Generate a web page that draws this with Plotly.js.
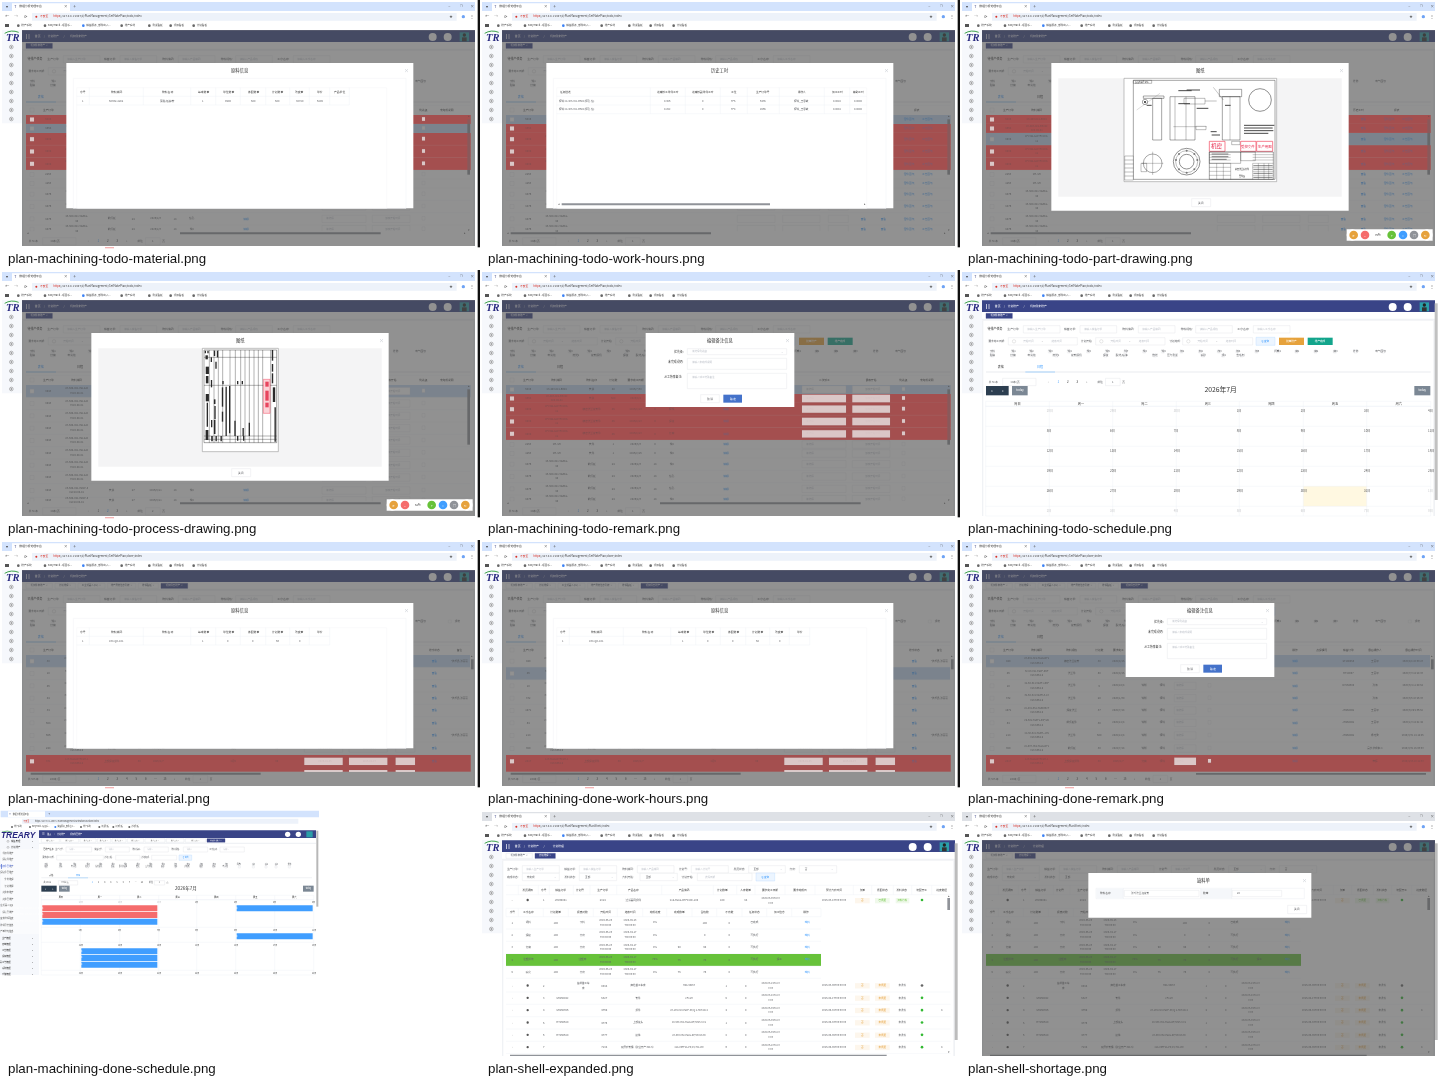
<!DOCTYPE html>
<html><head><meta charset="utf-8">
<script src="https://cdn.plot.ly/plotly-3.0.1.min.js"></script>
<style>html,body{margin:0;padding:0;background:#fff}#plot{width:1440px;height:1080px}
.cartesianlayer,.layer-above,.layer-below{filter:blur(0.22px)}
.annotation{filter:blur(0.18px)}
.annotation:nth-last-child(-n+12){filter:none}
</style>
</head><body><div id="plot"></div>
<script>
// ---------- content ----------
const captions=['plan-machining-todo-material.png','plan-machining-todo-work-hours.png','plan-machining-todo-part-drawing.png','plan-machining-todo-process-drawing.png','plan-machining-todo-remark.png','plan-machining-todo-schedule.png','plan-machining-done-material.png','plan-machining-done-work-hours.png','plan-machining-done-remark.png','plan-machining-done-schedule.png','plan-shell-expanded.png','plan-shell-shortage.png'];
const bookmarks=['排产系统','EasyTrack - 项目系...','销售服务_部件出入...','排产系统','测试看板','机加看板','计划看板'];
const checksTop=['下料','铣1','铣2','铣3','铣4','铣5','铣6','铣7','铣8','铣9','加1','加2','加3','加4','加5','折叠1','磨1','磨2','磨3','外协','机械图纸','电气图纸'];
const checksBottom=['贴牌','打磨','电火花','激光1','接管焊机','焊接','酸洗/喷漆','拖光','压力测试','喷砂','组2','去毛刺'];
const todoHeaders=['生产订单','物料编码','物料名称','计划数','要求完工日期','','工序','','操作','','二次派工','最晚开始','优先级','未完成说明'];
const todoOrders=['6435','8564','8939','8939','8939','2263','1263','8476','8476','8476','8476'];
const todoCodes=['23-403-021-B6x4','23-403-021-B32x2','2FI-YGLG-DTFC20C-11','2FI-YGLG-DTFC20C-11','2FI-YGLG-DTFC20C-11','2FI-SH','2FI-SH','23-500-021-YGZKL-40','23-500-021-YGZKL-40','23-500-021-YGZKL-40','23-500-021-YGZKL-40'];
const todoNames=['管筒','管筒','精密法兰接管件','精密法兰接管件','精密法兰接管件','管件','管件','前顶板','前顶板','前顶板','前顶板'];
const todoQty=['40','500','45','45','45','1','1','24','24','24','24'];
const todoDates=['2026/7/30','2026/9/1','2026/8/13','2026/8/13','2026/8/13','2026/3/3','2026/2/16','2026/8/3','2026/8/3','2026/8/3','2026/8/3'];
const todoSteps=['铣削','铣削','镗铣','焊接','打磨','铣9','铣9','铣9','钻孔','钻孔','铣9'];
const processCodes=['23-509-021-YGLG-D7','23-509-021-YGLG-D7','23-509-021-YGLG-D7','23-509-021-YGLG-D7','23-509-021-YGLG-D7','23-509-021-YGLG-D7','23-509-021-YGLG-D7','23-509-021-YGLG-D7','23-509-021-YGNP-50L'];
const materialHeaders=['序号','物料编码','物料名称','基本数量','单位数量','拣配数量','计划数量','改变量','单价','产品单位'];
const materialRow=['1','50362-22x2','薄膜-镀锌管','1','9900','500','500','30720','6205',''];
const doneMaterialRows=[['1','168-QC-101','','1','0','0','56','0',''],['1','168-QC-101','','1','0','0','50','0','']];
const hourHeaders=['任务描述','进审核工单件工时','进审核副单件工时','工位','生产订单号','操作人','加工工时','辅助工时'];
const hourRows=[['镗铣 22-403-021-B6x4 (镗孔 钻)','0.386','0','TF5','6435','镗铣_王思敏','0.0028','0.0000'],['镗铣 22-403-021-B6x4 (镗孔 钻)','0.252','0','TF4','8565','镗铣_王思敏','0.0042','0.0000']];
const doneOrdersA=['30','10','46','44','34','554','556','248','371'];
const doneOrdersB=['449','46','10','372','1071','54','218','359','2017'];
const doneCodes=['23-501-021-YGLG-DF1','32-50-021-YGZF-D5F','22-50-021-YGZF-150F','32-50-021-YGZFL3-10','22-401-051-YG04002T','29-501-YGZFL-50F/U5','22-50-021-YGZFL-10V','22-507-052-YGLG-DF1','2J3-YGLG-DTFC2M-1'];
const doneNames=['精密法兰接管','法兰件','法兰件','法兰件','焊接法兰','前顶板件','法兰件','前顶板','上部焊接组件'];
const doneQty=['30','50','5','20','37','30','500','30','30'];
const doneDates=['2025/9/15','2025/9/15','2025/10/4','2026/1/30','2025/7/14','2025/12/4','2025/12/4','2024/7/14','2026/2/7'];
const doneSales=['SY190055','HT20357','KY250300','','JH250001','JH250001','JH250001','',''];
const doneUsers=['王丽平','王丽平','孙涛','孙涛','王丽平','王丽平','杨玲秀','吴长华成本二','李辉'];
const doneTimes=['2026/4/8 16:00:23','2026/7/3 14:24:33','2026/3/4 11:49:54','2026/3/6 10:25:33','2026/3/29 9:36:52','2026/1/3 14:41:44','2026/3/31 14:18:46','2026/3/31 15:03:03','2026/4/25 10:12:33'];
const shellHeaders=['发货通知','序号','销售订单','计划号','生产订单','产品名称','产品编码','计划数量','入库数量','要求完工日期','要求完成日','预计齐套时间','欠量','抵配状态','发料状态','装配开工','进度数据'];
const shellSeq=['2','3','4','5','6','7'];
const shellSales=['','SH260042','SH260356','HT260629','HT260629',''];
const shellOrders=['0884','5327','4769','4775','4777','7134'];
const shellNames=['商检首工车床','管件','组件','上部接头','接箍','双层套管桶（建业开产 3x4.5）'];
const shellCodes=['HXS-5625Y','2FI-SH','23-105-013-YGZF-50/Q.2-HCTAN-4','20-500-052-YGLG-DF/50V5.0-01','23-500-052-YGLG-DF/50V10-09','21S-V6FF2A-P6/25/H4-100'];
const shellQty=['1','5','4','1','8','6'];
const shellDue=['2026-03-19','2026-03-28','2026-06-09','2026-06-09','2026-06-09','2026-06-10'];
const shellExpect=['2026-03-06T00:00:00','2026-04-27T00:00:00','2026-06-02T00:00:00','2026-06-03T00:00:00','2026-06-05T00:00:00','2026-06-05T00:00:00'];
const subHeaders=['序号','工序名称','计划数量','报废对数','开始时间','结束时间','完成进度','完成数量','合格数','不良数','任务状态','加工信息','操作'];
const subSteps=['领料','焊接','打磨','注塑组装','喷化'];
const subNames=['下料','齐套','齐套','注塑库','齐套'];
const subStart=['2026-05-20','2026-05-20','2026-05-23','2026-05-20','2026-05-20'];
const subEnd=['2026-05-23','2026-04-17','2026-04-17','2026-04-17','2026-04-17'];
const subProgress=['0%','0%','0%','75%','0%'];
const subDone=['','','90','75','75'];
const subPass=['100','0','90','75','75'];
const subState=['已完成','可执行','可执行','可执行','可执行'];
const calendarWeek=['周日','周一','周二','周三','周四','周五','周六'];
const calendarDates=[['28日','29日','30日','1日','2日','3日','4日'],['5日','6日','7日','8日','9日','10日','11日'],['12日','13日','14日','15日','16日','17日','18日'],['19日','20日','21日','22日','23日','24日','25日'],['26日','27日','28日','29日','30日','31日','1日'],['2日','3日','4日','5日','6日','7日','8日']];
const doneMenu=['机加件排产','焊接件排产','机加件已排产','焊接件已排产','外协排程','计划排程','壳体未排产','壳体已排产','工业机器人(CJ)','焊接已排产','排查未排程列表','排程异常信息','投料产量排班信息'];
const doneMainMenu=['销售管理','计划排产','生产管理','质量管理','工艺管理','设备管理','模具工装管理','采购管理','仓储管理'];
const scheduleEvents=['6435 (镗铣) 22-403-021-B6x4 25T 2026/7/30 未派工','6435 (镗铣) 22-403-021-B6x4 25T 2026/7/30 未派工','6435 (镗铣) 22-403-021-B6x4 25T 2026/7/30 已派工','8939 (焊接) 2FI-YGLG-DTFC20C-112 已派工','2257 (调质热处理) 23-501-021 已派工','8564 (镗铣) 23-403-021-B32x2 已派工','8564 (镗铣) 23-403-021-B32x2 已派工','8564 (镗铣) 23-403-021-B32x2 已派工'];
const NAVY='#394487',GT='#606266',BLUE='#409eff',REDROW='#f56c6c';
const CJK='"Noto Sans CJK SC","Noto Sans",sans-serif';

// ---------- drawing helpers (coordinates are per-panel, at 3x) ----------
const shapes=[],annots=[],T={x:[],y:[],t:[],s:[],c:[],p:[]};
let ox=0,oy=0,lay='below',modal=false,redBands=[],glows=[];
const X=v=>ox+v/3,Y=v=>oy+v/3;
function rect(x0,y0,x1,y1,fill,line,w){shapes.push({type:'rect',layer:lay,xref:'x',yref:'y',x0:X(x0),y0:Y(y0),x1:X(x1),y1:Y(y1),fillcolor:fill||'rgba(0,0,0,0)',line:{color:line||'rgba(0,0,0,0)',width:line?(w||0.35):0}});}
function ln(x0,y0,x1,y1,c,w){shapes.push({type:'line',layer:lay,xref:'x',yref:'y',x0:X(x0),y0:Y(y0),x1:X(x1),y1:Y(y1),line:{color:c||'#ebeef5',width:w||0.35}});}
function circ(cx,cy,r,fill,line,w){shapes.push({type:'circle',layer:lay,xref:'x',yref:'y',x0:X(cx-r),y0:Y(cy-r),x1:X(cx+r),y1:Y(cy+r),fillcolor:fill||'rgba(0,0,0,0)',line:{color:line||'rgba(0,0,0,0)',width:line?(w||0.35):0}});}
function tx(x,y,s,size,c,a){ if(s===''||s==null)return; size=size||3.2;c=c||GT;a=a||'c';
 if(modal){annots.push({xref:'x',yref:'y',x:X(x),y:Y(y),text:String(s),showarrow:false,xanchor:a=='c'?'center':a=='l'?'left':'right',yanchor:'middle',font:{family:CJK,size:size,color:c},borderpad:0,borderwidth:0});}
 else{T.x.push(X(x));T.y.push(Y(y));T.t.push(String(s));T.s.push(size);T.c.push(c);T.p.push(a=='c'?'middle center':a=='l'?'middle right':'middle left');}}

function chrome(urlPath,crumb,grey){
 lay='below';modal=false;redBands=[];glows=[];
 rect(0,0,1440,742,'#ffffff');
 rect(6,6,1425,33,grey?'#dee1e6':'#d3e3fd');
 rect(36,10,210,33,'#ffffff');
 tx(22,20,'▾',3.5,'#444');tx(46,20,'T',3.5,NAVY);tx(58,20,'数据分析处理平台',2.8,'#333','l');tx(197,20,'×',4,'#555');tx(224,20,'+',5,'#555');
 tx(1348,20,'–',4,'#555');tx(1383,20,'❐',3,'#555');tx(1417,20,'×',4,'#555');
 tx(22,50,'←',4,'#555');tx(48,50,'→',4,'#aaa');tx(76,50,'⟳',4,'#555');
 rect(96,39,1370,62,'#edf2fa');
 circ(109,50,3,'#d93025');tx(120,50,'不安全',2.8,'#d93025','l');tx(160,50,'https',2.8,'#d93025','l');tx(178,50,'://127.0.0.1:1997/#/PlanManagement/'+urlPath,2.8,'#444','l');
 tx(1353,50,'★',3.5,'#555');circ(1390,50,5,'#6ea3f5');tx(1417,50,'⋮',4,'#555');
 rect(15,72,27,81,'#555');
 const bx=[50,130,245,360,443,507,576];
 bookmarks.forEach((b,i)=>{circ(bx[i]+5,77,4,i==2?'#3b82f6':'#666');tx(bx[i]+14,77,b,2.6,'#444','l');});
 rect(6,90,1425,91,'#ccd0d6');
 rect(6,90,66,370,'#f6f8fc');
 [141,168,195,222,249,276,303,330,357].forEach(y=>{circ(34,y,5.5,null,'#666',0.45);rect(32,y-2,36,y+2,'#8a8a8a');});
 rect(66,91,1425,126,NAVY);
 rect(78,102,80,117,'#fff');rect(86,102,88,117,'#fff');
 tx(113,109,'首页',2.8,'#fff');tx(133,109,'/',3,'#ddd');tx(160,109,'计划排产',2.8,'#fff');tx(192,109,'/',3,'#ddd');tx(235,109,crumb,2.8,'#fff');
 circ(1298,111,12,'#fff');circ(1343,111,12,'#fff');
 rect(1379,97,1407,124,'#2a9fa8');circ(1393,105,5,'#222');rect(1386,112,1400,124,'#333');
 rect(66,126,1425,150,'#ffffff');rect(66,146,1425,152,'#f0f2f5');
 rect(66,152,70,738,'#f0f2f5');rect(1420,152,1425,738,'#f0f2f5');
}
function logo(){
 annots.push({xref:'x',yref:'y',x:X(36),y:Y(111),text:'<b><i>TR</i></b>',showarrow:false,font:{family:'"Liberation Serif",serif',size:10.5,color:'#27277f'},xanchor:'center',yanchor:'middle'});
 shapes.push({type:'path',layer:'above',xref:'x',yref:'y',path:`M ${X(14)} ${Y(100)} Q ${X(34)} ${Y(88)} ${X(56)} ${Y(97)}`,line:{color:'#3fa34d',width:1},fillcolor:'rgba(0,0,0,0)'});
}
function tag(x0,x1,s,active,y){y=y||137;rect(x0,y-7,x1,y+8,active?NAVY:'#fff',active?NAVY:'#d8dce5');tx((x0+x1)/2,y+.5,s+' ×',2.4,active?'#fff':'#495060');}
function filters(title,buttons){
 const y1=178,y2=214;
 tx(105,y1,title,3,'#333');
 [['生产订单:',160,190,300,'请输入生产订单'],['销售订单:',330,360,470,'请输入销售订单'],['物料编码:',505,535,645,'请输入产品编码'],['物料规格:',680,707,817,'请输入产品规格'],['工序名称:',850,880,990,'请输入工序名称']].forEach(f=>{tx(f[1],y1,f[0],2.8);rect(f[2],y1-11,f[3],y1+11,'#fff','#dcdfe6');tx(f[2]+12,y1,f[4],2.6,'#c0c4cc','l');});
 [['要求完工日期:',110,145,352],['计划开始:',380,407,615],['计划完成:',645,668,878]].forEach(f=>{tx(f[1],y2,f[0],2.6);rect(f[2],y2-11,f[3],y2+11,'#fff','#dcdfe6');circ(f[2]+17,y2,5,null,'#bbb');tx(f[2]+60,y2,'开始时间',2.6,'#c0c4cc');tx(f[2]+102,y2,'-',3);tx(f[2]+145,y2,'结束时间',2.6,'#c0c4cc');});
 rect(888,y2-12,945,y2+12,'#ecf5ff','#b3d8ff');tx(916,y2,'Q 查询',2.6,BLUE);
 if(buttons){rect(957,y2-11,1032,y2+11,'#e6a23c');tx(994,y2,'批量排产',2.6,'#fff');rect(1043,y2-11,1118,y2+11,'#13a58c');tx(1080,y2,'排产完成',2.6,'#fff');}
 const xs=[92,154,208,265,322,380,436,492,548,604,660,716,772,828,885,950,1005,1062,1120,1182,1265];
 const names=checksTop.slice(0,19).concat(['外协','机械图纸']);
 xs.forEach((x,i)=>{rect(x,240,x+9,249,'#fff','#dcdfe6');tx(x+13,245,i==20?'电气图纸':names[i],2.7,GT,'r');});
 const xb=[92,154,214,285,352,432,490,580,640,725,785,840];
 xb.forEach((x,i)=>{rect(x,252,x+9,261,'#fff','#dcdfe6');tx(x+13,257,checksBottom[i],2.7,GT,'r');});
}
function tabs(active){
 tx(122,292,'表格',3,active==0?BLUE:'#333');tx(240,292,'日程',3,active==1?BLUE:'#333');
 rect(78,304,1412,308,'#f0f2f5');
 if(active==0)rect(78,304,168,308,'#bcdcfb');else rect(196,304,285,308,'#bcdcfb');
}
function pager(y,total,size,pages,cur){
 tx(100,y,total,2.6);rect(128,y-11,228,y+11,'#fff','#dcdfe6');tx(165,y,size,2.6);
 tx(265,y,'‹',3.5,'#aaa');
 pages.forEach((p,i)=>tx(295+i*28.5,y,p,3,String(p)==String(cur)?BLUE:'#444'));
 const after=295+pages.length*28.5;
 tx(after,y,'›',3.5,'#555');tx(after+40,y,'前往',2.6);rect(after+56,y-11,after+100,y+11,'#fff','#dcdfe6');tx(after+78,y,cur,2.8);tx(after+110,y,'页',2.6);
}
function todoTable(o){
 const heads=[145,230,335,400,467,525,575,650,738,825,1033,1173,1270,1340];
 ln(78,316,1412,316,'#ebeef5');
 rect(78,318,1412,345,'#fff');
 rect(90,324,102,336,'#fff','#dcdfe6');
 if(!o.right)todoHeaders.forEach((h,i)=>tx(heads[i],330,h,2.7,'#444'));
 else{tx(145,330,'生产订单',2.7,'#444');tx(230,330,'物料编码',2.7,'#444');tx(1195,330,'历史工时',2.7,'#444');tx(1310,330,'报表',2.7,'#444');}
 const ys=o.ys;
 for(let i=0;i<ys.length-1;i++){
  const y0=ys[i],y1=ys[i+1],cy=(y0+y1)/2,k=(o.hi||{})[i];
  if(k)rect(78,y0,1412,y1,k=='red'?REDROW:'#c6dbf5');
  if(k=='red'){redBands.push([78,y0,1412,y1]);glows.push([90,cy-6,102,cy+6]);if(!o.right)glows.push([966,cy-11,1098,cy+11],[1117,cy-11,1230,cy+11],[1266,cy-7,1275,cy+4]);}
  ln(78,y1,1412,y1,'#ebeef5');
  rect(90,cy-6,102,cy+6,'#fff','#dcdfe6');
  tx(145,cy,o.orders[i],2.7);
  const c=o.codes[i];
  if(c.length>15){tx(230,cy-7,c.slice(0,17),2.6);tx(230,cy+7,c.slice(17)||'C20.00-01',2.6);}else tx(230,cy,c,2.6);
  if(o.right){
   tx(1150,cy,'查看',2.7,BLUE);tx(1210,cy,'查看',2.7,BLUE);tx(1287,cy,'零件图纸',2.7,BLUE);tx(1342,cy,'工艺图纸',2.7,BLUE);
   rect(772,cy-11,885,cy+11,'#fff','#dcdfe6');rect(908,cy-11,1020,cy+11,'#fff','#dcdfe6');rect(1045,cy-11,1105,cy+11,'#fff','#dcdfe6');
  }else{
   tx(335,cy,o.names[i],2.6);tx(400,cy,o.qty[i],2.7);tx(467,cy,o.dates[i],2.6);tx(525,cy,i>6?'14':'0',2.7);tx(575,cy,o.steps[i],2.6);tx(738,cy,'编辑',2.7,BLUE);
   rect(966,cy-11,1098,cy+11,'#fff','#dcdfe6');tx(990,cy,'请选择',2.6,'#c0c4cc');rect(1117,cy-11,1230,cy+11,'#fff','#dcdfe6');tx(1178,cy,'最晚开始时间',2.5,'#c0c4cc');
   rect(1266,cy-7,1275,cy+4,'#fff','#dcdfe6');
  }
 }
 rect(78,694,1412,706,'#fff');
 if(o.right)rect(92,697,693,703,'#909399');else rect(540,697,1142,703,'#909399');
 tx(84,700,'◂',3,'#666');tx(1395,700,'▸',3,'#666');
 rect(1402,358,1410,524,'#909399');tx(1406,350,'▴',3,'#666');tx(1406,690,'▾',3,'#666');
}
function doneTable(o){
 ln(78,316,1412,316,'#ebeef5');
 rect(90,324,102,336,'#fff','#dcdfe6');
 const ys=[345,382,419,456,493,530,567,606,645,695];
 const r=o.remark;
 tx(145,330,'生产订单',2.7,'#444');tx(230,330,'物料编码',2.7,'#444');
 if(r){[[335,'物料规格'],[418,'计划数'],[475,'要求完工'],[1005,'操作'],[1085,'点焊情况'],[1165,'销售订单'],[1245,'最后操作人'],[1360,'最后操作时间']].forEach(h=>tx(h[0],330,h[1],2.7,'#444'));}
 else{tx(335,330,'物料规格',2.7,'#444');tx(418,330,'计划数',2.7,'#444');tx(475,330,'要求完工',2.7,'#444');tx(1303,330,'排序状态',2.7,'#444');tx(1378,330,'备注',2.7,'#444');}
 for(let i=0;i<9;i++){
  const y0=ys[i],y1=ys[i+1],cy=i==8?664:(y0+y1)/2;
  if(i==8){rect(78,y0,1412,y1,REDROW);redBands.push([78,y0,1412,y1]);glows.push([90,cy-6,102,cy+6]);if(r)glows.push([643,cy-11,708,cy+11],[744,cy-7,753,cy+4]);else glows.push([913,cy-11,1028,cy+11],[1047,cy-11,1162,cy+11],[1187,cy-11,1245,cy+11]);}
  if(i==o.blue)rect(78,y0,1410,y1,'#c6dbf5');
  ln(78,y1,1412,y1,'#ebeef5');
  rect(90,cy-6,102,cy+6,'#fff','#dcdfe6');
  tx(145,cy,o.orders[i],2.7);
  tx(230,cy-7,doneCodes[i],2.5);tx(230,cy+7,'V10-5054-9',2.5);
  tx(335,cy,doneNames[i],2.6);tx(418,cy,doneQty[i],2.7);tx(475,cy,doneDates[i],2.6);
  if(r){
   if(i>=2){tx(552,cy,i==8?'打磨':'铣削',2.6);tx(607,cy,'镗铣',2.6);rect(643,cy-11,708,cy+11,'#fff','#dcdfe6');tx(660,cy,'请选择',2.5,'#c0c4cc');rect(744,cy-7,753,cy+4,'#fff','#dcdfe6');}
   tx(1005,cy,'编辑',2.7,BLUE);tx(1165,cy,doneSales[i],2.6);tx(1245,cy,doneUsers[i],2.6);tx(1358,cy,doneTimes[i],2.5);
  }else{
   tx(700,cy,i==8?'2月5':'铣削',2.6);tx(830,cy,doneQty[i],2.7);
   if(i>=7){rect(913,cy-11,1028,cy+11,'#fff','#dcdfe6');tx(975,cy,'2026-02-05',2.6);rect(1047,cy-11,1162,cy+11,'#fff','#dcdfe6');tx(1108,cy,'2026-02-27',2.6);rect(1187,cy-11,1245,cy+11,'#fff','#dcdfe6');}
   tx(1303,cy,'查看',2.7,BLUE);tx(1378,cy,i%3==0?'"技术员-张丽丽':'',2.5);
  }
 }
 if(!r)for(const x of [[913,1028],[1047,1162],[1187,1245]]){rect(x[0],690,x[1],696,'#fff');glows.push([x[0],690,x[1],696]);}
 rect(78,696,1412,708,'#fff');
 if(r)rect(708,699,1398,704,'#909399');else rect(92,698,782,704,'#909399');
 rect(1413,358,1421,388,'#909399');
 tx(1415,350,'▴',3,'#666');
}
function overlay(){
 lay='above';rect(66,90,1425,738,'rgba(78,78,78,0.62)');
 redBands.forEach(b=>rect(b[0],b[1],b[2],b[3],'rgba(210,60,60,0.32)'));
 glows.forEach(b=>rect(b[0],b[1],b[2],b[3],'rgba(255,255,255,0.6)'));
 modal=true;
}
function closeX(x){tx(x,209,'×',5,'#c0c4cc');}
function materialModal(headers,row,title){
 rect(199,189,1240,625,'#fff');tx(720,211,title,4.3,'#333');closeX(1219);
 rect(220,235,1218,625,'#fff','#eef0f4',0.5);
 const xs=[230,268,430,572,647,721,797,869,928,989,1048];
 const n=headers.length;
 rect(230,263,1160,625,'#fff','#f2f3f6');
 ln(230,289,xs[n],289,'#ebeef5');ln(230,315,xs[n],315,'#ebeef5');
 for(let i=0;i<n;i++){tx((xs[i]+xs[i+1])/2,276,headers[i],2.8,'#444');tx((xs[i]+xs[i+1])/2,302,row[i],2.7);ln(xs[i+1],263,xs[i+1],315,'#ebeef5');}
}
function hoursModal(){
 rect(199,189,1240,625,'#fff');tx(720,211,'历史工时',4.3,'#333');closeX(1219);
 rect(220,235,1218,625,'#fff','#eef0f4',0.5);rect(230,263,1160,625,'#fff','#f2f3f6');
 const xs=[230,511,616,721,802,898,1033,1109,1160];
 [289,315,341].forEach(y=>ln(230,y,1160,y,'#ebeef5'));
 xs.slice(1,-1).forEach(x=>ln(x,263,x,341,'#ebeef5'));
 hourHeaders.forEach((h,i)=>tx(i==0?256:(xs[i]+xs[i+1])/2,276,h,2.7,'#444'));
 hourRows.forEach((r,k)=>r.forEach((v,i)=>{if(i==0)tx(238,302+26*k,v,2.5,GT,'l');else tx((xs[i]+xs[i+1])/2,302+26*k,v,2.6);}));
 rect(245,610,870,616,'#909399');tx(236,613,'◂',3,'#666');tx(1155,613,'▸',3,'#666');
}
function remarkModal(){
 rect(497,189,943,411,'#fff');tx(720,211,'编辑备注信息',4.3,'#333');closeX(922);
 tx(596,244,'优先级:',2.9,'#444');rect(622,236,920,254,'#fff','#dcdfe6');tx(636,244,'请选择优先级',2.5,'#c0c4cc','l');tx(908,245,'⌄',3,'#c0c4cc');
 tx(585,275,'未完成说明:',2.9,'#444');rect(622,265,920,298,'#fff','#dcdfe6');tx(636,275,'请输入未完成说明',2.5,'#c0c4cc','l');
 tx(578,320,'派工特殊备注:',2.9,'#444');rect(622,310,920,356,'#fff','#dcdfe6');tx(636,320,'请输入派工特殊备注',2.5,'#c0c4cc','l');
 rect(662,374,718,398,'#fff','#dcdfe6');tx(690,386,'取 消',2.7,GT);rect(730,374,786,398,'#4472ca');tx(758,386,'确 定',2.7,'#fff');
}
function toolbar(pct){
 rect(1160,688,1418,722,'#fff');circ(1177,705,17,'#fff');circ(1401,705,17,'#fff');
 [[1181,'#e6a23c','↺'],[1215,'#f56c6c','–'],[1295,'#67c23a','+'],[1329,BLUE,'⌂'],[1362,'#909399','▤'],[1396,'#e6a23c','↻']].forEach(b=>{circ(b[0],705,13,b[1]);tx(b[0],705,b[2],3.2,'#fff');});
 tx(1255,705,pct,2.8,'#333');
}
function drawingModal(){
 rect(274,189,1166,632,'#fff');tx(720,211,'图纸',4.3,'#333');closeX(1145);
 rect(295,235,1145,590,'#f4f4f5');rect(695,596,752,620,'#fff','#dcdfe6');tx(723,608,'关闭',2.7,GT);
}
function partDrawing(){
 const B='#222';
 rect(492,235,950,545,'#fff','#999',0.6);rect(520,241,945,538,null,B,0.4);rect(494,468,520,540,'#fff',B,0.3);
 for(let y=480;y<535;y+=12)ln(494,y,520,y,B,0.3);
 rect(520,241,575,250,null,B,0.3);tx(547,245.5,'图 图纸编号 20%',1.8,'#111');
 rect(550,288,612,295,null,B,0.4);rect(578,295,605,420,null,B,0.4);circ(555,306,8,null,B,0.4);circ(555,306,3,B);ln(530,330,600,280,'#777',0.25);
 rect(630,290,705,420,null,B,0.4);ln(645,290,645,420,B,0.3);ln(678,290,678,420,B,0.3);rect(672,295,735,312,null,B,0.3);ln(735,303,770,303,B,0.3);ln(640,380,740,380,B,0.25);rect(708,379,738,389,'#fff',B,0.3);
 rect(778,268,845,290,null,B,0.4);rect(787,290,840,420,null,B,0.4);ln(810,290,810,420,B,0.25);rect(815,424,840,434,'#fff',B,0.3);ln(760,262,790,300,B,0.25);
 circ(900,300,34,'#fff',B,0.5);
 shapes.push({type:'path',layer:'above',xref:'x',yref:'y',path:`M ${X(900)} ${Y(266)} A 11.3 11.3 0 0 1 ${X(900)} ${Y(334)} L ${X(900)} ${Y(300)} Z`,fillcolor:'#333',line:{width:0}});
 [[852,376,950],[852,384,938],[852,392,940],[852,400,925]].forEach(l=>ln(l[0],l[1],Math.min(l[2],943),l[1],'#333',0.9));
 [[655,272,695],[755,405,780],[795,316,812],[710,325,745],[655,311,690],[560,316,575],[752,395,770],[680,270,720]].forEach(l=>ln(l[0],l[1],l[2],l[1],'#333',0.9));
 circ(578,490,28,null,B,0.4);ln(545,490,610,490,B,0.25);ln(578,455,578,525,B,0.25);rect(543,490,560,515,null,B,0.3);
 circ(680,485,40,null,B,0.5);circ(680,485,33,null,B,0.3);circ(680,485,22,'#fff',B,0.5);[[680,452],[712,480],[680,518],[648,480],[703,462],[657,462],[703,508],[657,508]].forEach(p=>circ(p[0],p[1],3,'#777'));
 [[748,795,'机密',5.6],[842,888,'受控文件',3.4],[890,938,'生产用图',3.4]].forEach(s=>{rect(s[0],424,s[1],454,'#fff','#f24b62',0.7);tx((s[0]+s[1])/2,439,s[2],s[3],'#e82c4f');});
 rect(748,456,940,538,null,B,0.4);rect(748,456,842,490,null,B,0.3);rect(842,456,886,482,null,B,0.3);
 [464,472,480,490,502,514,526].forEach(y=>{ln(748,y,812,y,B,0.25);ln(878,y,940,y,B,0.25);});
 [770,790,812,878,895,912,926].forEach(x=>ln(x,490,x,538,B,0.25));
 tx(845,506,'精密法兰接管件',2,'#222');tx(845,527,'零件图',2,'#222');
 [[755,462,805],[755,470,805],[755,478,800],[880,497,938],[880,508,938],[880,520,938],[880,532,938]].forEach(l=>ln(l[0],l[1],l[2],l[1],'#333',0.6));
}
function processDrawing(){
 const B='#222';
 rect(607,235,835,545,'#fff','#999',0.6);rect(612,240,830,518,null,B,0.4);
 [628,642,655,668,690,706,722,735,748,762,775,788,812].forEach(x=>ln(x,240,x,518,B,0.35));
 [262,346,498,508].forEach(y=>ln(612,y,830,y,B,0.35));
 const blocks=[[614,242,618,250],[622,242,626,250],[640,242,647,258],[650,242,655,262],[614,256,626,268],[631,262,637,276],[614,290,630,312],[615,318,628,340],[645,275,651,296],[632,330,637,352],[666,333,672,343],[710,333,716,343],[724,333,730,343],[814,240,821,272],[814,282,821,305],[814,310,821,340],[614,372,630,394],[619,398,625,470],[640,388,648,402],[642,408,648,448],[632,450,638,472],[640,450,648,492],[614,480,628,510],[664,352,671,410],[676,350,681,498],[686,348,692,490],[664,425,671,455],[702,452,708,498],[727,474,732,498],[745,458,751,498],[816,352,828,396],[822,412,829,515],[632,498,640,514],[645,498,652,514],[660,498,667,514],[710,498,716,512],[728,498,734,512]];
 blocks.forEach(b=>{const w=b[2]-b[0],m=(b[0]+b[2])/2,h=Math.max(2,w*0.3);rect(m-h,b[1],m+h,b[3],'#2a2a2a');});
 rect(790,328,810,430,'#fbd3d8','#f24b62',0.5);
 [[796,335,806,350],[796,362,806,392],[796,398,806,412]].forEach(b=>rect(b[0],b[1],b[2],b[3],'#e8455e'));
}
function panelAt(i){ox=[0,480,960][i%3];oy=[0,270,540,810][Math.floor(i/3)];}
function blackEdge(){lay='above';rect(1433,0,1440,742,'#111');}
function redMark(){lay='below';rect(315,741,342,745,'#f5b4b4');}

// ---------- todo panels ----------
function todoBase(urlSuffix,o){
 chrome('GetMakePlan/'+urlSuffix,'机加件未排产');
 tag(78,157,'机加件未排产',true);
 filters('待排产任务',o.buttons);tabs(0);
 todoTable(o);pager(724,o.total||'共 58 条','20条/页',[1,2,3],o.page||1);
}
const ysA=[345,372,399,436,473,510,537,564,601,638,675,700],ysB=[345,382,419,456,493,530,567,604,641,682,700];
const base={orders:todoOrders,codes:todoCodes,names:todoNames,qty:todoQty,dates:todoDates,steps:todoSteps,ys:ysA};
const H=(list,k)=>Object.fromEntries(list.map(i=>[i,k]));
panelAt(0);todoBase('todo/index',{...base,hi:{...H([0,2,3,4],'red'),1:'blue'}});redMark();overlay();materialModal(materialHeaders,materialRow,'原料信息');logo();blackEdge();
panelAt(1);todoBase('todo/index',{...base,right:true,hi:{...H([1,2,3,4],'red'),0:'blue'}});overlay();hoursModal();logo();blackEdge();
panelAt(2);todoBase('todo/index',{...base,right:true,hi:{...H([0,1,3,4],'red'),2:'blue'}});overlay();drawingModal();partDrawing();toolbar('75%');logo();
panelAt(3);todoBase('todo/index',{...base,orders:Array(10).fill('8943'),codes:processCodes.concat(['23-509-021-YGNP-50L']).map(c=>c+'C20.00-01'),names:Array(10).fill('管筒'),qty:Array(10).fill('27'),dates:Array(10).fill('2026/9/11'),steps:Array(10).fill('铣9'),ys:ysB,hi:{0:'blue'},page:2});redMark();overlay();drawingModal();processDrawing();toolbar('52%');logo();blackEdge();
panelAt(4);todoBase('todo/index',{...base,buttons:true,hi:{...H([1,2,3,4],'red'),0:'blue'}});overlay();remarkModal();logo();blackEdge();

// ---------- todo schedule ----------
function calendarTable(xs,ys,hy0,hy1,fs){
 ln(xs[0],hy0,xs[7],hy0,'#ebeef5');ln(xs[0],hy1,xs[7],hy1,'#ebeef5');
 xs.forEach(x=>ln(x,hy0,x,ys[ys.length-1],'#ebeef5'));
 ys.forEach(y=>ln(xs[0],y,xs[7],y,'#ebeef5'));
 calendarWeek.forEach((d,i)=>tx((xs[i]+xs[i+1])/2,(hy0+hy1)/2,d,fs,'#333'));
}
panelAt(5);chrome('GetMakePlan/todo/index','机加件未排产');tag(78,157,'机加件未排产',true);filters('待排产任务',true);tabs(1);
pager(336,'共 58 条','20条/页',[1,2,3],1);
rect(78,348,146,376,'#2c3e50');tx(96,362,'‹',5,'#fff');tx(128,362,'›',5,'#fff');rect(156,348,203,376,'#7b8794');tx(180,362,'today',2.8,'#fff');
tx(782,362,'2026年7月',6.8,'#333');rect(1363,348,1411,376,'#7b8794');tx(1387,362,'today',2.8,'#fff');
{const xs=[77,268,458,649,838,1030,1220,1412],ys=[409,469,529,589,649,709,738];
 rect(1030,649,1220,709,'#fff8e1');calendarTable(xs,ys,394,409,3.2);
 calendarDates.forEach((r,j)=>r.forEach((d,i)=>{const out=(j==0&&i<3)||(j==4&&i==6)||j==5;tx(xs[i+1]-8,ys[j]+14,d,3,out?'#c8c9cc':'#555','l');}));
}
rect(1424,100,1433,690,'#c1c1c1');logo();

// ---------- done panels ----------
const doneTags=[[78,157,'机加件未排产'],[165,226,'计划排程'],[234,315,'工业机器人(CJ)'],[323,407,'排产异常信息列表'],[415,475,'排程看板'],[483,563,'机加件已排产']];
function doneBase(o){
 chrome('GetMakePlan/done/index','机加件已排产');
 doneTags.forEach((t,i)=>tag(t[0],t[1],t[2],i==5));
 filters('已排产任务',false);
 tabs(0);doneTable(o);pager(717,'共 535 条','100条/页',[1,2,3,4,5,6,'…',15],1);
 rect(1345,240,1354,249,'#fff','#dcdfe6');tx(1372,245,'组装',2.7);
}
panelAt(6);doneBase({orders:doneOrdersA,blue:0});redMark();overlay();materialModal(materialHeaders.slice(0,8).concat(['单价']),doneMaterialRows[0],'原料信息');logo();blackEdge();
panelAt(7);doneBase({orders:doneOrdersB,blue:1});redMark();overlay();materialModal(materialHeaders.slice(0,8).concat(['单价']),doneMaterialRows[1],'原料信息');logo();blackEdge();
panelAt(8);doneBase({orders:doneOrdersB,blue:0,remark:true});redMark();overlay();remarkModal();logo();

// ---------- done schedule (narrower screenshot) ----------
panelAt(9);lay='below';modal=false;
rect(0,0,960,495,'#fff');rect(2,2,957,22,'#d3e3fd');rect(24,4,135,22,'#fff');tx(30,13,'T',2.5,NAVY);tx(38,13,'数据分析处理平台',2,'#333','l');tx(148,13,'+',3.5,'#555');
rect(66,26,895,41,'#edf2fa');tx(70,33,'不安全',2,'#d93025','l');tx(105,33,'https://127.0.0.1:1997/#/PlanManagement/GetMakePlan/done/index',2,'#444','l');
[33,87,163,240,295,337,385].forEach((x,i)=>{circ(x+3,51,3,i==2?'#3b82f6':'#666');tx(x+9,51,bookmarks[i],1.9,'#444','l');});
rect(0,60,117,495,'#f6f8fc');rect(117,61,948,84,NAVY);rect(949,62,955,290,'#b8b8b8');
annots.push({xref:'x',yref:'y',x:X(57),y:Y(74),text:'<b><i>TREARY</i></b>',showarrow:false,font:{family:'"Liberation Sans",sans-serif',size:8.4,color:'#27277f'},xanchor:'center',yanchor:'middle'});
shapes.push({type:'path',layer:'above',xref:'x',yref:'y',path:`M ${X(6)} ${Y(66)} Q ${X(22)} ${Y(60)} ${X(38)} ${Y(67)}`,line:{color:'#3fa34d',width:.7},fillcolor:'rgba(0,0,0,0)'});
tx(130,73,'☰',2.6,'#fff');tx(148,73,'首页',2,'#fff');tx(163,73,'/',2,'#ddd');tx(183,73,'计划排产',2,'#fff');tx(228,73,'机加件已排产',2,'#fff');
circ(863,73,8,'#fff');circ(895,73,8,'#fff');rect(919,64,938,82,'#2a9fa8');
tx(47,94,doneMainMenu[0],2.3,'#333');tx(47,112,doneMainMenu[1],2.3,'#333');
rect(3,118,117,372,'#fafbfd');
doneMenu.forEach((m,i)=>{const y=130+i*19.6;circ(34,y,3,null,'#888');tx(40,y,m,2.2,i==2?'#4a66d0':'#666','r');});rect(3,162,5,177,'#4a66d0');
doneMainMenu.slice(2).forEach((m,i)=>{const y=385+i*18;circ(24,y,3,null,'#777');tx(32,y,m,2.2,'#444','r');tx(97,y,'▾',2.2,'#777');});
circ(24,94,3,null,'#777');circ(24,112,3,null,'#777');tx(97,94,'▾',2.2,'#777');tx(97,112,'▴',2.2,'#777');
[[124,178],[182,236],[240,288],[292,332],[336,378],[382,431],[435,495],[499,552],[556,617],[621,675]].forEach((t,i)=>{rect(t[0],86,t[1],97,i==9?NAVY:'#fff',i==9?NAVY:'#d8dce5');tx((t[0]+t[1])/2,91.5,i==9?'机加件已排产 ×':'排产页面 ×',1.6,i==9?'#fff':'#666');});
rect(117,98,948,102,'#f0f2f5');
tx(145,118,'已排产任务',2.1,'#333');
[[178,'生产订单:',198,275],[295,'销售订单:',316,388],[410,'物料编码:',432,505],[527,'物料规格:',550,623],[640,'工序名称:',660,733]].forEach(f=>{tx(f[0],118,f[1],1.9);rect(f[2],111,f[3],126,'#fff','#dcdfe6');tx(f[2]+10,118,'请输入',1.8,'#c0c4cc','l');});
tx(145,143,'要求完工日期:',1.9);rect(170,136,310,150,'#fff','#dcdfe6');tx(325,143,'计划开始:',1.9);rect(347,136,420,150,'#fff','#dcdfe6');tx(436,143,'计划完成:',1.9);rect(455,136,530,150,'#fff','#dcdfe6');rect(537,135,575,151,'#ecf5ff','#b3d8ff');tx(557,143,'Q 查询',1.9,BLUE);
const sx=[135,178,220,260,298,335,372,410,448,485,523,560,600,638,675,715,757,795,825,865];
sx.forEach((x,i)=>{rect(x,160,x+6,166,'#fff','#dcdfe6');tx(x+9,163,checksTop[i],1.8,GT,'r');rect(x,168,x+6,174,'#fff','#dcdfe6');if(i<15)tx(x+9,171,checksBottom[i%12],1.8,GT,'r');});
tx(154,195,'表格',2.1,'#333');tx(234,195,'日程',2.1,BLUE);rect(124,202,936,205,'#f0f2f5');rect(204,202,264,205,'#bcdcfb');
tx(142,218,'共 535 条',1.9);rect(175,212,233,225,'#fff','#dcdfe6');tx(195,218,'100条/页',1.8);
[1,2,3,4,5,6,7,'…',15].forEach((p,i)=>tx(277+i*18.6,218,p,2,i==0?BLUE:'#444'));tx(425,218,'›',2.6,'#555');tx(453,218,'前往',1.9);rect(463,212,494,225,'#fff','#dcdfe6');tx(478,218,'1',2);tx(502,218,'页',1.9);
rect(124,227,170,245,'#2c3e50');tx(137,236,'‹',3.5,'#fff');tx(158,236,'›',3.5,'#fff');rect(177,227,209,245,'#7b8794');tx(193,236,'today',2,'#fff');
tx(558,236,'2026年7月',4.6,'#333');rect(909,227,941,245,'#7b8794');tx(925,236,'today',2,'#fff');
{const xs=[124,241,359,476,590,707,824,941],ys=[269,352,397,481,495];
 calendarTable(xs,ys,256,269,2.2);
 calendarDates.slice(0,4).forEach((r,j)=>r.forEach((d,i)=>{const out=j==0&&i<3;tx(xs[i+1]-5,ys[j]+8,d,2,out?'#c8c9cc':'#555','l');}));
 [[127,472,295,'#f56c6c',0],[127,472,315,'#f56c6c',1],[127,472,335,BLUE,2],[710,938,295,BLUE,3],[710,938,379,BLUE,4],[244,472,424,BLUE,5],[244,472,444,BLUE,6],[244,472,464,BLUE,7]].forEach(e=>{rect(e[0],e[2]-9,e[1],e[2]+9,e[3]);tx(e[0]+3,e[2],scheduleEvents[e[4]],1.9,'#fff','r');});
}
lay='below';

// ---------- shell panels ----------
function shellBase(){
 chrome('PlanShell/index','计划排程',true);
 tag(78,157,'机加件未排产',false);tag(165,226,'计划排程',true);
 const y1=178,y2=201;
 [['生产订单:',98,127,238,'请输入生产订单'],['销售订单:',270,298,410,'请输入销售订单'],['物料编码:',444,472,582,'请输入产品编码'],['计划号:',610,634,745,'请输入计划号']].forEach(f=>{tx(f[1],y1,f[0],2.7);rect(f[2],y1-11,f[3],y1+11,'#fff','#dcdfe6');tx(f[2]+12,y1,f[4],2.5,'#c0c4cc','l');});
 tx(778,y1,'发货状态:',2.7);rect(806,y1-11,916,y1+11,'#fff','#dcdfe6');tx(828,y1,'全部',2.6);tx(904,y1,'⌄',3,'#c0c4cc');tx(938,y1,'齐套:',2.7);rect(958,y1-11,1070,y1+11,'#fff','#dcdfe6');tx(978,y1,'否',2.6);tx(1058,y1,'⌄',3,'#c0c4cc');
 [['完成状态:',98,127,238,'未完成'],['发料状态:',270,298,410,'全部'],['齐料开始:',444,480,592,'全部']].forEach(f=>{tx(f[1],y2,f[0],2.7);rect(f[2],y2-11,f[3],y2+11,'#fff','#dcdfe6');tx(f[2]+25,y2,f[4],2.6);tx(f[3]-12,y2,'⌄',3,'#c0c4cc');});
 tx(622,y2,'计划开始:',2.7);rect(652,y2-11,816,y2+11,'#fff','#dcdfe6');tx(690,y2,'选择日期',2.5,'#c0c4cc');rect(828,y2-12,884,y2+12,'#ecf5ff','#b3d8ff');tx(856,y2,'Q 查询',2.6,BLUE);
 const hx=[143,191,242,300,368,460,612,727,797,870,960,1062,1147,1207,1265,1325,1385];
 rect(78,226,1412,254,'#fff');ln(78,226,1412,226,'#ebeef5');ln(78,254,1412,254,'#ebeef5');
 [115,175,208,280,330,410,545,700,770,825,915,1005,1120,1175,1240,1295,1355].forEach(x=>ln(x,226,x,254,'#ebeef5'));
 shellHeaders.forEach((h,i)=>tx(hx[i],240,h,2.7,'#444'));
 const yR=272;tx(97,yR,'⌄',3,'#aaa');circ(143,270,3.5,'#555');tx(191,yR,'1',2.7);tx(242,yR,'JH260001',2.6);tx(368,yR,'2314',2.7);tx(460,yR,'过滤器网组件',2.6);tx(612,yR,'21S-YGLG-DTFC20C-100',2.6);tx(727,yR,'100',2.7);tx(797,yR,'84',2.7);tx(872,yR-8,'2026-05-05T10:0',2.4);tx(872,yR+8,'0:00',2.4);tx(1062,yR,'2026-03-23T00:00:00',2.5);
 rect(1125,264,1169,280,'#fdf6ec');tx(1147,yR,'否',2.6,'#e6a23c');rect(1185,264,1229,280,'#f0f9eb');tx(1207,yR,'已抵配',2.5,'#67c23a');rect(1247,264,1288,280,'#f0f9eb');tx(1267,yR,'清料待料',2.4,'#67c23a');circ(1326,270,4,'#33b933');
 rect(1402,264,1410,300,'#909399');tx(1406,258,'▴',3,'#666');
 ln(78,295,1023,295,'#ebeef5');
 const sx=[97,145,227,307,377,450,525,598,674,748,823,898,978];
 subHeaders.forEach((h,i)=>tx(sx[i],308,h,2.7,'#444'));ln(78,320,1023,320,'#ebeef5');
 [78,115,190,265,340,412,488,560,636,710,786,860,935,1023].forEach(x=>ln(x,296,x,320,'#ebeef5'));
 subSteps.forEach((s,i)=>{const y0=320+37*i,cy=y0+18.5;
  if(i==3)rect(78,y0+1,1023,y0+37,'#67c23a');
  ln(78,y0+37,1023,y0+37,'#ebeef5');
  tx(97,cy,i+1,2.7);tx(145,cy,s,2.6);tx(227,cy,'100',2.7);tx(307,cy,subNames[i],2.6);tx(377,cy-7,subStart[i],2.5);tx(377,cy+7,'T00:00:00',2.5);tx(450,cy-7,subEnd[i],2.5);tx(450,cy+7,'T00:00:00',2.5);tx(525,cy,subProgress[i],2.6);tx(598,cy,subDone[i],2.7);tx(674,cy,subPass[i],2.7);tx(748,cy,'0',2.7);tx(823,cy,subState[i],2.6);if(i==3)tx(898,cy,'焊工',2.6);tx(982,cy,'缺料',2.6,BLUE);
 });
 shellSeq.forEach((s,i)=>{const y0=509+37*i,cy=y0+18.5;
  ln(78,y0+37,1412,y0+37,'#ebeef5');
  tx(97,cy,'›',3,'#aaa');circ(143,cy-1,3.5,'#555');tx(191,cy,s,2.7);tx(247,cy,shellSales[i],2.6);
  if(i==0){tx(310,cy-7,'售前首工车',2.5);tx(310,cy+7,'床',2.5);}
  tx(373,cy,shellOrders[i],2.7);tx(474,cy,shellNames[i],2.5);tx(627,cy,shellCodes[i],2.4);tx(739,cy,shellQty[i],2.7);tx(797,cy,'0',2.7);
  tx(872,cy-7,shellDue[i]+'T12:0',2.4);tx(872,cy+7,'0:00',2.4);tx(1062,cy,shellExpect[i],2.5);
  rect(1125,cy-8,1169,cy+8,'#fdf6ec');tx(1147,cy,'否',2.6,'#e6a23c');rect(1185,cy-8,1229,cy+8,'#fdf6ec');tx(1207,cy,'未抵配',2.5,'#e6a23c');tx(1267,cy,'未发料',2.5);
  circ(1326,cy-1,4,i==0?'#666':'#33b933');if(i==2||i==5)tx(1385,cy,'4',2.7);
 });
 rect(78,733,1412,738,'#fff');rect(90,734,1220,738,'#909399');tx(1406,727,'▾',3,'#666');
 rect(1424,100,1433,690,'#bcbcbc');
}
panelAt(10);shellBase();logo();
panelAt(11);shellBase();overlay();
rect(385,189,1054,323,'#fff');tx(733,211,'缺料单',4.3,'#333');closeX(1033);
rect(408,235,1033,266,'#fff','#e4e7ed');rect(409,236,490,265,'#f5f7fa');rect(722,236,815,265,'#f5f7fa');ln(490,235,490,266,'#e4e7ed');ln(722,235,722,266,'#e4e7ed');ln(815,235,815,266,'#e4e7ed');
tx(436,250,'物料名称',2.7,'#555');tx(737,250,'数量',2.7,'#555');rect(493,241,717,260,'#fff','#dcdfe6');tx(540,250,'张氏法兰连接管',2.6);rect(817,241,965,260,'#fff','#dcdfe6');tx(835,250,'20',2.7);
rect(983,286,1040,311,'#fff','#dcdfe6');tx(1012,298,'关闭',2.7,GT);logo();

// ---------- captions ----------
const capY=[258,528,798,1068];
captions.forEach((c,i)=>annots.push({xref:'x',yref:'y',x:[6,486,966][i%3],y:capY[Math.floor(i/3)],text:c,showarrow:false,xanchor:'left',yanchor:'middle',font:{family:'"Liberation Sans",Arial,sans-serif',size:13.3,color:'#111'}}));

Plotly.newPlot('plot',[{type:'scatter',mode:'text',x:T.x,y:T.y,text:T.t,textposition:T.p,textfont:{family:CJK,size:T.s,color:T.c},hoverinfo:'skip',showlegend:false,cliponaxis:false}],{
 width:1440,height:1080,margin:{l:0,r:0,t:0,b:0},paper_bgcolor:'#fff',plot_bgcolor:'#fff',showlegend:false,
 xaxis:{range:[0,1440],visible:false,fixedrange:true},yaxis:{range:[1080,0],visible:false,fixedrange:true},
 shapes:shapes,annotations:annots
},{staticPlot:true,displayModeBar:false});
</script></body></html>
